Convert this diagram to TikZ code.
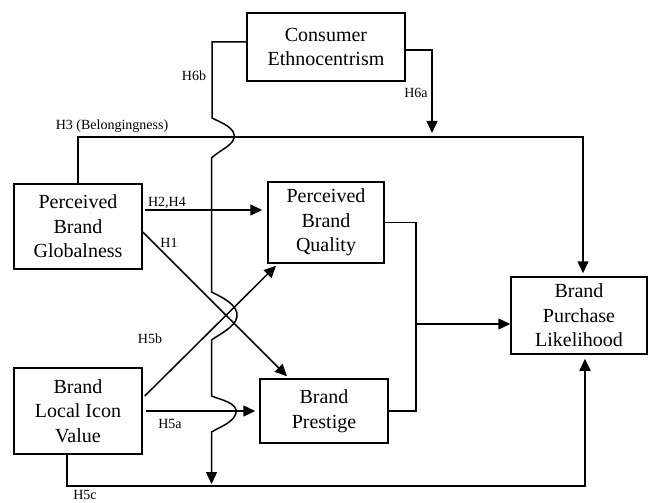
\documentclass[tikz,border=0pt]{standalone}
\usepackage{fontspec}
\setmainfont{Liberation Serif}
\usetikzlibrary{arrows.meta,calc}
\begin{document}
\begin{tikzpicture}[x=1pt,y=1pt,
  box/.style={draw,line width=1.5pt,align=center,inner sep=0pt,
    font=\fontsize{20}{24.5}\selectfont},
  line/.style={line width=1.5pt},
  arr/.style={line width=1.5pt,-{Triangle[length=12pt,width=11pt]}},
  lab/.style={font=\fontsize{14}{16}\selectfont,inner sep=0pt}]
\useasboundingbox (0,0) rectangle (649,-503);
% boxes
\node[box,minimum width=158,minimum height=68] (CE) at (326,-47) {Consumer\\Ethnocentrism};
\node[box,minimum width=128,minimum height=85] (PBG) at (78,-226.5) {Perceived\\Brand\\Globalness};
\node[box,minimum width=116,minimum height=81] (PBQ) at (326,-222.5) {Perceived\\Brand\\Quality};
\node[box,minimum width=128,minimum height=86] (BLIV) at (78,-411) {Brand\\Local Icon\\Value};
\node[box,minimum width=128,minimum height=64] (BP) at (324,-411) {Brand\\Prestige};
\node[box,minimum width=136,minimum height=77] (BPL) at (579,-315.5) {Brand\\Purchase\\Likelihood};
% coordinates
\coordinate (h3) at (583,-137);
\coordinate (h6a) at (432,-133);
\coordinate (j) at (416,-324);
\coordinate (h5c) at (585,-486);
\coordinate (h6btop) at (212,-42);
% H3
\draw[arr,shorten >=3pt] (PBG.north) |- (h3) -- (h3 |- BPL.north);
% H6a
\draw[arr] ($(CE.east)+(0,-3)$) -| (h6a);
% H6b with crossing bumps
\draw[arr] ($(CE.west)+(0,5)$) -- (h6btop) -- (212,-118)
  .. controls (222,-123) and (236,-128) .. (234,-138)
  .. controls (232,-146) and (220,-150) .. (211.5,-158)
  -- (211.5,-292)
  .. controls (221.5,-297) and (239,-305) .. (237,-317)
  .. controls (235,-327) and (220,-334) .. (211.5,-340)
  -- (211.5,-396)
  .. controls (221.5,-400) and (238,-403) .. (236,-413)
  .. controls (234,-422) and (220,-427) .. (211.5,-432)
  -- (211.5,-484);
% H2,H4
\draw[arr,shorten <=2pt,shorten >=5pt] ($(PBG.east)+(0,16.5)$) -- ($(PBQ.west)+(0,12.5)$);
% H1
\draw[arr] ($(PBG.east)+(0,-5.5)$) -- ($(BP.north)+(-37,2)$);
% H5b
\draw[arr] ($(BLIV.east)+(2,15)$) -- ($(PBQ.south)+(-50,-2)$);
% H5a
\draw[arr,shorten <=3pt,shorten >=4pt] (BLIV.east) -- (BP.west);
% PBQ, BP to BPL
\draw[line] (PBQ.east) -| (j |- BP.east) -- (BP.east);
\draw[arr] (j) -- (BPL.west |- j);
% H5c
\draw[arr,shorten >=4pt] ($(BLIV.south)+(-11,0)$) |- (h5c) -- (h5c |- BPL.south);
% labels
\node[lab] (lH6b) at (194,-76) {H6b};
\node[lab] (lH3) at (112,-126) {H3 (Belongingness)};
\node[lab] (lH6a) at (416,-93) {H6a};
\node[lab] (lH24) at (167,-203) {H2,H4};
\node[lab] (lH1) at (169,-243) {H1};
\node[lab] (lH5b) at (150,-339) {H5b};
\node[lab] (lH5a) at (170,-424) {H5a};
\node[lab] (lH5c) at (85,-495) {H5c};
\end{tikzpicture}
\end{document}
